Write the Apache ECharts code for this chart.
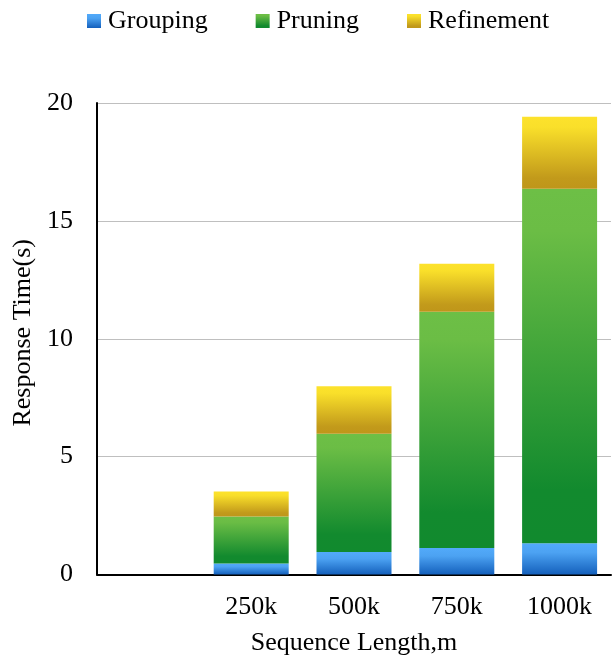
<!DOCTYPE html>
<html>
<head>
<meta charset="utf-8">
<script src="https://cdn.jsdelivr.net/npm/echarts@6/dist/echarts.min.js"></script>
<style>
  html, body { margin: 0; padding: 0; background: #fff; }
  #chart { width: 613px; height: 660px; }
</style>
</head>
<body>
<div id="chart"></div>
<script>
// Sequence lengths (the first slot is left empty on purpose)
const categories = ['', '250k', '500k', '750k', '1000k'];
// Response time per phase, seconds
const grouping   = [null, 0.47, 0.95, 1.12, 1.33];
const pruning    = [null, 1.99, 5.02, 10.02, 15.03];
const refinement = [null, 1.06, 2.02, 2.04, 3.06];
const yTicks = [0, 5, 10, 15, 20];

const FONT = '"Liberation Serif", "Times New Roman", serif';
const FS = 26;

function vGrad(stops) {
  return new echarts.graphic.LinearGradient(0, 0, 0, 1,
    stops.map(([o, c]) => ({ offset: o, color: c })));
}

const colors = {
  Grouping: vGrad([[0, '#52AAFA'], [0.3, '#4CA2F2'], [1, '#1460BC']]),
  Pruning: vGrad([[0, '#6DBF46'], [0.12, '#6BBD45'], [0.85, '#128A2E'], [1, '#118A2E']]),
  Refinement: vGrad([[0, '#FDE22C'], [0.15, '#F9DF2A'], [0.85, '#C29A1B'], [1, '#BF961A']])
};

function barSeries(name, data) {
  return {
    name: name,
    type: 'bar',
    stack: 'total',
    data: data,
    barWidth: 75,
    itemStyle: { color: colors[name] },
    emphasis: { disabled: true }
  };
}

const chart = echarts.init(document.getElementById('chart'), null, { renderer: 'canvas' });
chart.setOption({
  animation: false,
  backgroundColor: '#ffffff',
  legend: {
    top: 3,
    left: 82,
    itemWidth: 14,
    itemHeight: 14,
    itemGap: 48,
    icon: 'rect',
    textStyle: { fontFamily: FONT, fontSize: FS, color: '#000', padding: [0, 0, 0, 2] },
    data: ['Grouping', 'Pruning', 'Refinement']
  },
  grid: { left: 97, right: 2, top: 103, bottom: 85.5, containLabel: false, outerBoundsMode: 'none' },
  xAxis: {
    type: 'category',
    data: categories,
    name: 'Sequence Length,m',
    nameLocation: 'middle',
    nameGap: 56,
    nameTextStyle: { fontFamily: FONT, fontSize: FS, color: '#000' },
    axisLine: { show: true, lineStyle: { color: '#000', width: 2 } },
    axisTick: { show: false },
    axisLabel: { fontFamily: FONT, fontSize: FS, color: '#000', margin: 20 },
    splitLine: { show: false }
  },
  yAxis: {
    type: 'value',
    min: yTicks[0],
    max: yTicks[yTicks.length - 1],
    interval: yTicks[1] - yTicks[0],
    name: 'Response Time(s)',
    nameLocation: 'middle',
    nameGap: 50,
    nameTextStyle: { fontFamily: FONT, fontSize: FS, color: '#000', padding: [0, 0, 0, 12] },
    axisLine: { show: true, lineStyle: { color: '#000', width: 2 } },
    axisTick: { show: false },
    axisLabel: { fontFamily: FONT, fontSize: FS, color: '#000', margin: 24 },
    splitLine: { show: true, lineStyle: { color: '#BFBFBF', width: 1 } }
  },
  series: [
    barSeries('Grouping', grouping),
    barSeries('Pruning', pruning),
    barSeries('Refinement', refinement)
  ]
});
</script>
</body>
</html>
